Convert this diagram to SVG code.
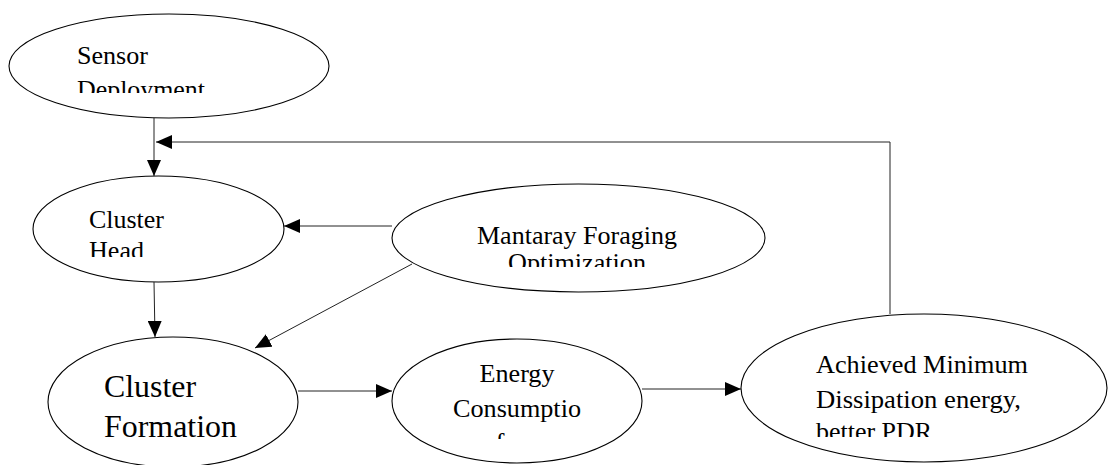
<svg xmlns="http://www.w3.org/2000/svg" width="1109" height="465" viewBox="0 0 1109 465">
<style>
.node ellipse{fill:#fff;stroke:#000;stroke-width:1.1}
text{font-family:'Liberation Serif','Times New Roman','DejaVu Serif',serif;font-size:26px;fill:#000}
.big{font-size:32px}
.mid{text-anchor:middle}
.conn path{fill:none;stroke:#222;stroke-width:1}
</style>
<defs>
<marker id="ah" markerUnits="userSpaceOnUse" markerWidth="16" markerHeight="14" refX="16" refY="7" orient="auto">
<path d="M0,0 L16,7 L0,14 z" fill="#000"/>
</marker>
<clipPath id="c1"><rect x="0" y="0" width="400" height="93"/></clipPath>
<clipPath id="c2"><rect x="0" y="150" width="400" height="107"/></clipPath>
<clipPath id="c3"><rect x="380" y="180" width="400" height="87"/></clipPath>
<clipPath id="c5"><rect x="380" y="330" width="300" height="109"/></clipPath>
<clipPath id="c6"><rect x="740" y="310" width="369" height="127"/></clipPath>
</defs>
<rect width="1109" height="465" fill="#fff"/>
<g id="sensor-deployment" class="node">
<ellipse cx="169" cy="66" rx="160" ry="52"/>
<g clip-path="url(#c1)"><text x="77" y="64" textLength="71" lengthAdjust="spacingAndGlyphs">Sensor</text><text x="77" y="98" textLength="128" lengthAdjust="spacingAndGlyphs">Deployment</text></g>
</g>
<g id="cluster-head" class="node">
<ellipse cx="158.5" cy="229" rx="125.5" ry="53"/>
<g clip-path="url(#c2)"><text x="89" y="228" textLength="75" lengthAdjust="spacingAndGlyphs">Cluster</text><text x="89" y="259" textLength="55" lengthAdjust="spacingAndGlyphs">Head</text></g>
</g>
<g id="mantaray" class="node">
<ellipse cx="578.5" cy="238" rx="186.5" ry="54"/>
<g clip-path="url(#c3)"><text class="mid" x="577" y="244" textLength="200" lengthAdjust="spacingAndGlyphs">Mantaray Foraging</text><text class="mid" x="577" y="271" textLength="138" lengthAdjust="spacingAndGlyphs">Optimization</text></g>
</g>
<g id="cluster-formation" class="node">
<ellipse cx="173" cy="402" rx="125" ry="65"/>
<text class="big" x="104" y="397" textLength="92" lengthAdjust="spacingAndGlyphs">Cluster</text><text class="big" x="104" y="437" textLength="133" lengthAdjust="spacingAndGlyphs">Formation</text>
</g>
<g id="energy-consumption" class="node">
<ellipse cx="517" cy="401" rx="125" ry="62"/>
<g clip-path="url(#c5)"><text class="mid" x="517" y="382" textLength="75" lengthAdjust="spacingAndGlyphs">Energy</text><text class="mid" x="517" y="417" textLength="128" lengthAdjust="spacingAndGlyphs">Consumptio</text><text class="mid" x="521" y="451" textLength="118" lengthAdjust="spacingAndGlyphs">n of sensor</text></g>
</g>
<g id="achieved" class="node">
<ellipse cx="924" cy="388" rx="183" ry="74"/>
<g clip-path="url(#c6)"><text x="816" y="373" textLength="212" lengthAdjust="spacingAndGlyphs">Achieved Minimum</text><text x="816" y="408" textLength="205" lengthAdjust="spacingAndGlyphs">Dissipation energy,</text><text x="816" y="440" textLength="116" lengthAdjust="spacingAndGlyphs">better PDR</text></g>
</g>
<g id="connectors" class="conn">
<path d="M154,118 L154,176" marker-end="url(#ah)"/>
<path d="M890,314 L890,142 L156,142" marker-end="url(#ah)"/>
<path d="M392,226 L284,226" marker-end="url(#ah)"/>
<path d="M154,282 L155,337" marker-end="url(#ah)"/>
<path d="M412,264 L255,348" marker-end="url(#ah)"/>
<path d="M298,391 L392,391" marker-end="url(#ah)"/>
<path d="M642,389 L741,389" marker-end="url(#ah)"/>
</g>
</svg>
